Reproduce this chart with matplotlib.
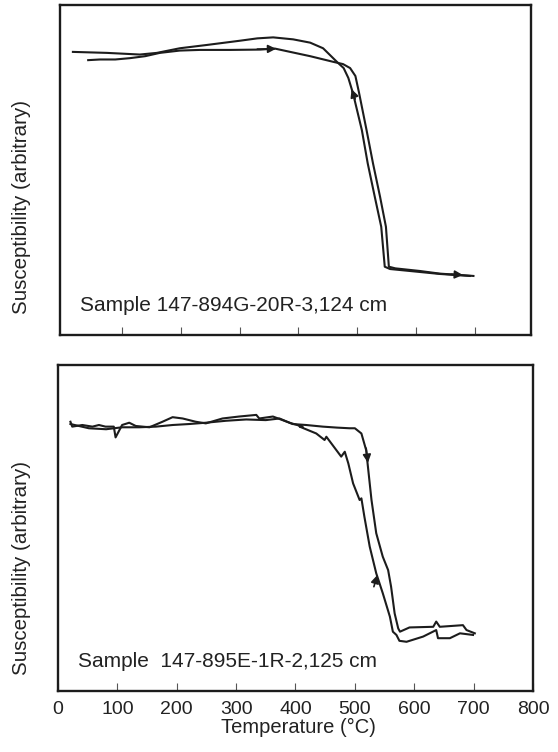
import numpy as np
import matplotlib
matplotlib.use('Agg')
import matplotlib.pyplot as plt

plt.rcParams['font.family'] = ['Liberation Sans', 'DejaVu Sans']

# Sample 147-894G-20R-3,124 cm  (top panel)
t1_heat = [42, 62, 88, 113, 139, 164, 198, 232, 284, 335, 360, 386, 420, 459,
           476, 488, 497, 503, 516, 527, 539, 549, 554, 565, 607, 641, 675, 698]
k1_heat = [.833, .835, .835, .839, .845, .855, .862, .864, .864, .865, .868, .858,
           .845, .828, .821, .809, .785, .736, .621, .520, .419, .328, .207, .202,
           .194, .186, .182, .179]
t1_cool = [692, 641, 590, 556, 547, 541, 530, 518, 508, 493, 485, 477, 466, 454,
           442, 420, 391, 357, 330, 301, 244, 198, 159, 130, 74, 16]
k1_cool = [.179, .185, .194, .200, .207, .328, .419, .520, .621, .732, .779, .809,
           .827, .848, .869, .886, .896, .902, .899, .892, .879, .869, .855, .850,
           .855, .858]

# Sample 147-895E-1R-2,125 cm  (bottom panel)
t2_heat = [21, 52, 81, 108, 137, 165, 193, 221, 249, 283, 317, 350, 373, 395, 418,
           446, 470, 491, 500, 511, 519, 522, 528, 536, 547, 556, 561, 567, 573,
           576, 592, 632, 637, 643, 682, 688, 702]
k2_heat = [.819, .806, .803, .809, .809, .811, .816, .819, .823, .829, .833, .831,
           .836, .819, .816, .811, .808, .806, .806, .790, .739, .688, .586, .484,
           .412, .371, .320, .238, .192, .182, .195, .197, .213, .197, .202, .187, .177]
t2_cool = [699, 677, 660, 640, 637, 615, 587, 575, 570, 564, 559, 547, 536, 525,
           516, 511, 508, 497, 489, 483, 477, 452, 449, 435, 407, 412, 390, 362,
           339, 334, 305, 277, 249, 232, 210, 193, 176, 154, 131, 120, 108, 97,
           94, 80, 69, 58, 41, 24, 21]
k2_cool = [.172, .177, .162, .162, .187, .167, .151, .154, .172, .182, .228, .300,
           .361, .443, .535, .591, .586, .637, .698, .734, .719, .780, .770, .790,
           .811, .811, .823, .842, .836, .847, .842, .836, .821, .826, .836, .840,
           .826, .809, .813, .823, .816, .778, .811, .811, .816, .811, .816, .811, .826]

xticks = [0, 100, 200, 300, 400, 500, 600, 700, 800]

fig = plt.figure(figsize=(5.58, 7.52), dpi=100)
ax1 = fig.add_axes([0.1075, 0.5545, 0.8441, 0.4388])
ax2 = fig.add_axes([0.1039, 0.0811, 0.8513, 0.4335])

lc = '#1c1c1c'
for ax in (ax1, ax2):
    for s in ax.spines.values():
        s.set_linewidth(1.7)
        s.set_color(lc)
    ax.set_ylim(0, 1)
    ax.set_yticks([])
    ax.tick_params(axis='x', direction='in', length=6, width=0.8, color='#555555',
                   labelsize=14, pad=7, labelcolor='#222222')

ax1.set_xlim(-6, 796)
ax1.set_xticks(xticks[1:-1])
ax1.set_xticklabels([])
ax2.set_xlim(0, 800)
ax2.set_xticks(xticks)

ax1.plot(t1_heat, k1_heat, color=lc, lw=1.5)
ax1.plot(t1_cool, k1_cool, color=lc, lw=1.5)
ax2.plot(t2_heat, k2_heat, color=lc, lw=1.5)
ax2.plot(t2_cool, k2_cool, color=lc, lw=1.5)

# direction arrows
def arrow(ax, x0, y0, x1, y1):
    ax.annotate('', xy=(x1, y1), xytext=(x0, y0),
                arrowprops=dict(arrowstyle='-|>', color=lc, lw=1.2,
                                mutation_scale=12, shrinkA=0, shrinkB=0))

arrow(ax1, 330, .8665, 362, .8675)
arrow(ax1, 496.7, .715, 490.5, .745)
arrow(ax1, 660, .184, 680, .182)
arrow(ax2, 519, .745, 522, .700)
arrow(ax2, 532, .320, 538, .356)

ax1.text(0.0425, 0.088, 'Sample 147-894G-20R-3,124 cm', transform=ax1.transAxes,
         fontsize=15, va='center', ha='left', color='#222222')
ax2.text(0.042, 0.089, 'Sample  147-895E-1R-2,125 cm', transform=ax2.transAxes,
         fontsize=15, va='center', ha='left', color='#222222')

fig.text(0.0394, 0.7247, 'Susceptibility (arbitrary)', rotation=90, fontsize=14.8,
         ha='center', va='center', color='#222222')
fig.text(0.0394, 0.2447, 'Susceptibility (arbitrary)', rotation=90, fontsize=14.8,
         ha='center', va='center', color='#222222')
fig.text(0.535, 0.0332, 'Temperature (°C)', fontsize=14.5, ha='center', va='center',
         color='#222222')

fig.savefig('out.png', dpi=100)
